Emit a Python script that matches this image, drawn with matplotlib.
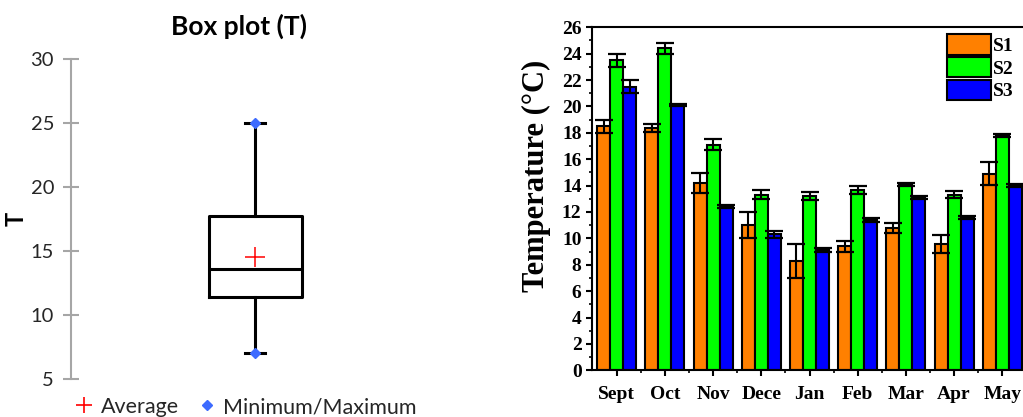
import numpy as np
import matplotlib
matplotlib.use("Agg")
import matplotlib.pyplot as plt
from matplotlib.lines import Line2D
from matplotlib.ticker import MultipleLocator

# ---- Box plot summary of temperature T ----
box_min = 7.0
box_q1 = 11.4
box_median = 13.55
box_q3 = 17.75
box_max = 25.0
box_mean = 14.55
box_ticks = [5, 10, 15, 20, 25, 30]

# ---- Monthly temperature per station ----
months = ["Sept", "Oct", "Nov", "Dece", "Jan", "Feb", "Mar", "Apr", "May"]
series_names = ["S1", "S2", "S3"]
s1 = [18.5, 18.4, 14.2, 11.0, 8.3, 9.4, 10.8, 9.6, 14.9]
s2 = [23.5, 24.4, 17.1, 13.3, 13.2, 13.7, 14.1, 13.3, 17.8]
s3 = [21.5, 20.1, 12.4, 10.3, 9.1, 11.4, 13.1, 11.6, 14.0]
s1_err = [0.5, 0.3, 0.75, 1.0, 1.3, 0.43, 0.37, 0.68, 0.88]
s2_err = [0.5, 0.4, 0.43, 0.35, 0.28, 0.3, 0.1, 0.26, 0.1]
s3_err = [0.5, 0.1, 0.1, 0.27, 0.15, 0.15, 0.1, 0.1, 0.1]
bar_colors = ["#FF8000", "#00FF00", "#0000FF"]

W, H = 1023, 417
fig = plt.figure(figsize=(W / 100, H / 100), dpi=100)

# ================= Left: box plot =================
sans = ["Lato", "DejaVu Sans"]
axL_w = 440 - 70.7
axL = fig.add_axes([70.7 / W, (H - 379) / H, axL_w / W, (379 - 58.7) / H])
stats = [dict(med=box_median, q1=box_q1, q3=box_q3, whislo=box_min,
              whishi=box_max, mean=box_mean, label="")]
lw_box = 2.2
axL.bxp(stats, positions=[0.5], widths=0.251, showmeans=True, showfliers=False,
        boxprops=dict(color="black", linewidth=lw_box),
        medianprops=dict(color="black", linewidth=lw_box),
        whiskerprops=dict(color="black", linewidth=lw_box),
        capprops=dict(color="black", linewidth=lw_box),
        capwidths=0.054,
        meanprops=dict(marker="+", markeredgecolor="#FF0000", markersize=15,
                       markeredgewidth=1.1))
axL.plot([0.5, 0.5], [box_min, box_max], linestyle="none", marker="D",
         color="#3D6BFF", markersize=5.5, zorder=5)
axL.set_xlim(0, 1)
axL.set_ylim(5, 30)
axL.set_yticks(box_ticks)
for s in ["top", "right", "bottom"]:
    axL.spines[s].set_visible(False)
axL.spines["left"].set_color("#A6A6A6")
axL.spines["left"].set_linewidth(1.5)
axL.set_xticks([])
axL.tick_params(axis="y", direction="inout", length=12, width=1.5,
                color="#A6A6A6", labelsize=14.5, labelcolor="#262626", pad=6)
for t in axL.get_yticklabels():
    t.set_family(sans)
axL.set_ylabel("T", fontsize=17, fontweight="bold", family=sans)
axL.yaxis.set_label_coords((28 - 70.7) / axL_w, 0.5)
axL.set_title("Box plot (T)", fontsize=19, fontweight="bold", family=sans,
              x=(239 - 70.7) / axL_w, pad=17)
leg_handles = [
    Line2D([], [], linestyle="none", marker="+", markeredgecolor="#FF0000",
           markersize=12, markeredgewidth=1.2),
    Line2D([], [], linestyle="none", marker="D", color="#3D6BFF", markersize=5.5),
]
fig.legend(leg_handles, ["Average", "Minimum/Maximum"], loc="center",
           bbox_to_anchor=(246 / W, (H - 407) / H), ncol=2, frameon=False,
           prop=dict(family=sans, size=15.5), handlelength=0.8,
           handletextpad=0.35, columnspacing=0.9, labelcolor="#262626")

# ================= Right: grouped bars =================
serif = ["Liberation Serif", "DejaVu Serif"]
axR_w = 1027.3 - 591.7
axR = fig.add_axes([591.7 / W, (H - 370.3) / H, axR_w / W,
                    (370.3 - 27.3) / H])
x = np.arange(len(months))
bw = 0.27
for i, (vals, errs) in enumerate([(s1, s1_err), (s2, s2_err), (s3, s3_err)]):
    axR.bar(x + (i - 1) * bw, vals, width=bw, color=bar_colors[i],
            edgecolor="black", linewidth=1.5, label=series_names[i],
            yerr=errs, error_kw=dict(ecolor="black", elinewidth=1.5,
                                     capsize=6.5, capthick=1.6), zorder=2)
axR.set_xlim(-0.519, len(months) - 1 + 0.519)
axR.set_ylim(0, 26)
axR.yaxis.set_major_locator(MultipleLocator(2))
axR.yaxis.set_minor_locator(MultipleLocator(1))
axR.set_xticks(x)
axR.set_xticks(x[:-1] + 0.5, minor=True)
axR.set_xticklabels(months)
for s in axR.spines.values():
    s.set_linewidth(1.5)
axR.tick_params(which="major", direction="out", length=4.3, width=1.5,
                labelsize=14, pad=3)
axR.tick_params(which="minor", direction="out", length=2.5, width=1.2)
axR.tick_params(axis="x", which="major", pad=7)
for t in axR.get_xticklabels() + axR.get_yticklabels():
    t.set_family(serif)
    t.set_fontweight("bold")
axR.set_ylabel("Temperature (°C)", fontsize=22, fontweight="bold", family=serif)
axR.yaxis.set_label_coords((551 - 591.7) / axR_w, (370.3 - 175.5) / 343)
axR.legend(loc="upper left", bbox_to_anchor=(946.7 / W, (H - 34) / H),
           bbox_transform=fig.transFigure, frameon=False,
           prop=dict(family=serif, weight="bold", size=14),
           handlelength=2.3, handleheight=1.25, labelspacing=0.1,
           handletextpad=0.1, borderpad=0, borderaxespad=0)

fig.savefig("out.png", dpi=100)
